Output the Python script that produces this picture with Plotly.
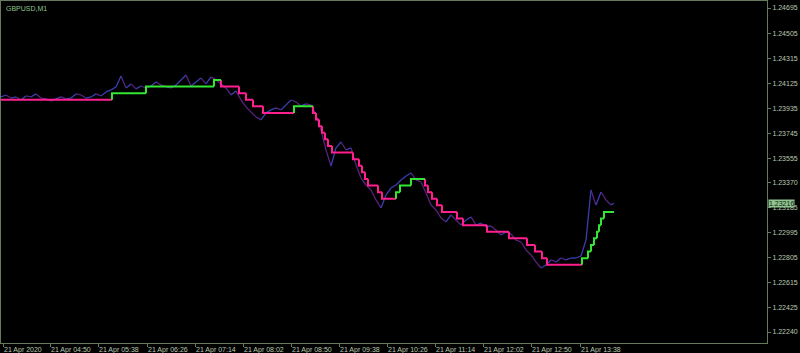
import plotly.graph_objects as go

# ---- data ----
symbol_title = "GBPUSD,M1"
bar_idx = list(range(0, 611, 5)) + [613]
close = [1.24021, 1.24036, 1.24013, 1.24021, 1.23998, 1.24029, 1.24021, 1.24044, 1.24013, 1.24006,
         1.23991, 1.24006, 1.24021, 1.24006, 1.24013, 1.24044, 1.24036, 1.24013, 1.24021, 1.24044,
         1.24029, 1.24059, 1.24074, 1.24097, 1.24180, 1.24089, 1.24120, 1.24082, 1.24104, 1.24089,
         1.24104, 1.24135, 1.24112, 1.24097, 1.24089, 1.24112, 1.24150, 1.24188, 1.24104, 1.24135,
         1.24165, 1.24120, 1.24173, 1.24150, 1.24120, 1.24089, 1.24036, 1.24067, 1.23998, 1.23945,
         1.23907, 1.23870, 1.23847, 1.23900, 1.23923, 1.23938, 1.23923, 1.23960, 1.23998, 1.23983,
         1.23953, 1.23968, 1.23960, 1.23885, 1.23771, 1.23619, 1.23498, 1.23635, 1.23680, 1.23619,
         1.23635, 1.23506, 1.23407, 1.23354, 1.23316, 1.23241, 1.23180, 1.23278, 1.23332, 1.23354,
         1.23392, 1.23422, 1.23445, 1.23392, 1.23377, 1.23294, 1.23203, 1.23165, 1.23104, 1.23074,
         1.23127, 1.23089, 1.23051, 1.23089, 1.23112, 1.23051, 1.23066, 1.23036, 1.23044, 1.23013,
         1.22975, 1.22998, 1.22983, 1.22937, 1.22922, 1.22862, 1.22824, 1.22771, 1.22725, 1.22748,
         1.22786, 1.22771, 1.22801, 1.22786, 1.22801, 1.22801, 1.22816, 1.22937, 1.23316, 1.23203,
         1.23301, 1.23241, 1.23203, 1.23216]

step_x = [0, 111, 145, 213, 220, 238, 245, 252, 262, 293, 312, 315, 318, 321, 324, 327, 331,
          352, 358, 361, 364, 367, 377, 381, 395, 399, 410, 424, 427, 431, 436, 441, 456, 462,
          486, 508, 526, 534, 541, 546, 581, 587, 590, 593, 596, 598, 600, 603]
step_end = 613
step_val = [1.24000, 1.24050, 1.24100, 1.24150, 1.24100, 1.24050, 1.24000, 1.23950, 1.23900,
            1.23950, 1.23900, 1.23850, 1.23800, 1.23750, 1.23700, 1.23650, 1.23600,
            1.23550, 1.23500, 1.23450, 1.23400, 1.23350, 1.23300, 1.23250, 1.23300, 1.23350,
            1.23400, 1.23350, 1.23300, 1.23250, 1.23200, 1.23150, 1.23100, 1.23050,
            1.23000, 1.22950, 1.22900, 1.22850, 1.22800, 1.22750, 1.22800, 1.22850, 1.22900,
            1.22950, 1.23000, 1.23050, 1.23100, 1.23150]

price_ticks = [1.24695, 1.24505, 1.24315, 1.24125, 1.23935, 1.23745, 1.23555, 1.23370,
               1.23185, 1.22995, 1.22805, 1.22615, 1.22425, 1.22240]
time_tick_pos = [2, 49, 97, 146, 194, 242, 290, 338, 386, 434, 482, 530, 579]
time_tick_text = ["21 Apr 2020", "21 Apr 04:50", "21 Apr 05:38", "21 Apr 06:26", "21 Apr 07:14",
                  "21 Apr 08:02", "21 Apr 08:50", "21 Apr 09:38", "21 Apr 10:26", "21 Apr 11:14",
                  "21 Apr 12:02", "21 Apr 12:50", "21 Apr 13:38"]
last_price = 1.23216

# ---- style ----
BG = "#000000"
FRAME = "#667a60"
TXT = "#b9c9b0"
UP_STEP = "#33e633"
DN_STEP = "#ff1f8e"
UP_PX = "#3a3fb0"
DN_PX = "#5a2280"
FONT = "Liberation Sans"

fig = go.Figure()

# price line, colored by direction
ux, uy, dx, dy = [], [], [], []
for i in range(1, len(bar_idx)):
    seg_x = [bar_idx[i - 1], bar_idx[i], None]
    seg_y = [close[i - 1], close[i], None]
    if close[i] >= close[i - 1]:
        ux += seg_x; uy += seg_y
    else:
        dx += seg_x; dy += seg_y
fig.add_trace(go.Scatter(x=dx, y=dy, mode="lines", line=dict(color=DN_PX, width=1.3),
                         hoverinfo="skip", showlegend=False))
fig.add_trace(go.Scatter(x=ux, y=uy, mode="lines", line=dict(color=UP_PX, width=1.3),
                         hoverinfo="skip", showlegend=False))

# step line
gx, gy, mx, my = [], [], [], []
ends = step_x[1:] + [step_end]
for i in range(len(step_x)):
    prev = step_val[i - 1] if i > 0 else step_val[i]
    xs = [step_x[i], step_x[i], ends[i], None]
    ys = [prev, step_val[i], step_val[i], None]
    if i > 0 and step_val[i] > prev:
        gx += xs; gy += ys
    else:
        mx += xs; my += ys
fig.add_trace(go.Scatter(x=mx, y=my, mode="lines", line=dict(color=DN_STEP, width=2),
                         hoverinfo="skip", showlegend=False))
fig.add_trace(go.Scatter(x=gx, y=gy, mode="lines", line=dict(color=UP_STEP, width=2),
                         hoverinfo="skip", showlegend=False))

# time labels (left-aligned at tick)
for p, t in zip(time_tick_pos, time_tick_text):
    fig.add_annotation(x=p, y=0, xref="x", yref="paper", text=t, showarrow=False,
                       xanchor="left", yanchor="top", yshift=-1, xshift=-1,
                       font=dict(family=FONT, size=7, color=TXT))

fig.add_annotation(x=0.004, y=0.995, xref="paper", yref="paper", text=symbol_title,
                   showarrow=False, xanchor="left", yanchor="top",
                   font=dict(family=FONT, size=7, color="#8fc38f"))

fig.add_annotation(x=1, y=last_price, xref="paper", yref="y", text=f"{last_price:.5f}",
                   showarrow=False, xanchor="left", yanchor="middle", xshift=1,
                   bgcolor="#8fc38f", borderpad=0,
                   font=dict(family=FONT, size=7, color="#102010"))

fig.update_layout(
    width=800, height=353,
    margin=dict(l=1, r=33, t=1, b=10),
    paper_bgcolor=BG, plot_bgcolor=BG,
    xaxis=dict(range=[0, 766], showgrid=False, zeroline=False,
               tickvals=time_tick_pos, ticktext=[""] * len(time_tick_pos),
               ticks="outside", ticklen=3, tickcolor=FRAME,
               showline=True, linecolor=FRAME, linewidth=1, mirror=True),
    yaxis=dict(range=[1.22157, 1.24748], side="right", showgrid=False, zeroline=False,
               tickvals=price_ticks, ticktext=[f"{v:.5f}" for v in price_ticks],
               ticks="outside", ticklen=3, tickcolor=FRAME,
               tickfont=dict(family=FONT, size=7, color=TXT),
               showline=True, linecolor=FRAME, linewidth=1, mirror=True),
)

fig.write_html("out.html")
